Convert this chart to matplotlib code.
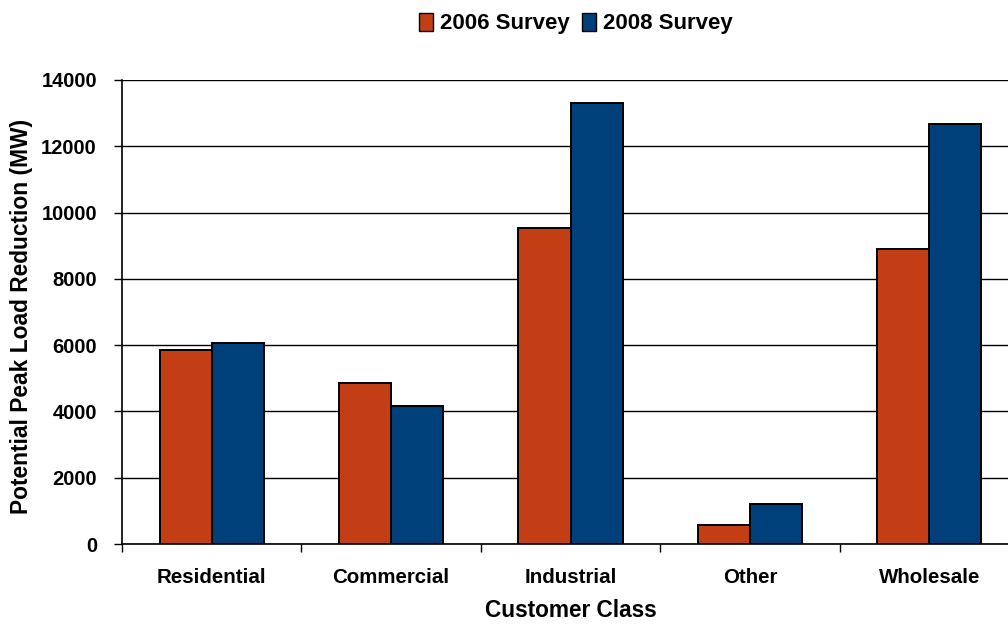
import numpy as np
import matplotlib
matplotlib.use("Agg")
import matplotlib.pyplot as plt
from matplotlib.patches import Patch

# ── Styling ───────────────────────────────────────────────────────────────────
plt.rcParams.update({
    'font.family': ['Liberation Sans', 'DejaVu Sans'],
    'font.weight': 'bold',
})

# ── Data ──────────────────────────────────────────────────────────────────────
categories = ["Residential", "Commercial", "Industrial", "Other", "Wholesale"]
survey_2006 = [5840, 4850, 9520, 570, 8900]
survey_2008 = [6050, 4150, 13300, 1200, 12660]
series_labels = ["2006 Survey", "2008 Survey"]
y_ticks = [0, 2000, 4000, 6000, 8000, 10000, 12000, 14000]

colors = {"2006 Survey": "#C33D15", "2008 Survey": "#00407A"}

# ── Plot ──────────────────────────────────────────────────────────────────────
fig = plt.figure(figsize=(10.08, 6.24), dpi=100)
ax = fig.add_axes([0.121, 0.1282, 0.89, 0.7436])

x = np.arange(len(categories))
w = 0.29
ax.bar(x - w / 2, survey_2006, width=w, color=colors["2006 Survey"],
       edgecolor='black', linewidth=1.4, zorder=3)
ax.bar(x + w / 2, survey_2008, width=w, color=colors["2008 Survey"],
       edgecolor='black', linewidth=1.4, zorder=3)

ax.set_xlim(-0.5, len(categories) - 0.5)
ax.set_ylim(0, 14000)
ax.set_yticks(y_ticks)
ax.yaxis.grid(True, color='black', linewidth=1.0, zorder=0)
ax.set_axisbelow(True)

# category labels at centres, tick marks at boundaries
ax.set_xticks(x)
ax.set_xticklabels(categories, fontsize=14.8, fontweight='bold')
ax.set_xticks(np.arange(-0.5, len(categories) + 0.5, 1), minor=True)
ax.tick_params(axis='x', which='major', length=0, pad=17)
ax.tick_params(axis='x', which='minor', length=6, width=1, direction='out')
ax.tick_params(axis='y', length=6, width=1, direction='out', pad=12,
               labelsize=14.5)
for lbl in ax.get_yticklabels():
    lbl.set_fontweight('bold')

for side in ['top', 'right']:
    ax.spines[side].set_visible(False)
for side in ['left', 'bottom']:
    ax.spines[side].set_linewidth(1.2)
    ax.spines[side].set_color('black')

ax.set_xlabel('Customer Class', fontsize=16.3, fontweight='bold', labelpad=9)
ax.set_ylabel('Potential Peak Load Reduction (MW)', fontsize=16.4,
              fontweight='bold')
ax.yaxis.set_label_coords(-0.099, 0.49)

handles = [Patch(facecolor=colors[s], edgecolor='black', linewidth=1.0)
           for s in series_labels]
fig.legend(handles, series_labels, loc='center', bbox_to_anchor=(0.571, 0.962),
           ncol=2, frameon=False, handlelength=0.65,
           handleheight=0.85, handletextpad=0.3, columnspacing=0.55,
           prop={'weight': 'bold', 'size': 16})

fig.savefig('out.png', dpi=100)
